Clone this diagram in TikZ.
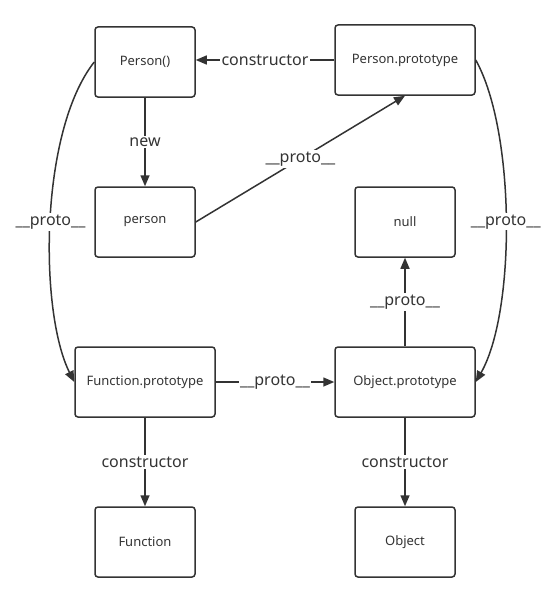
\documentclass[tikz,border=0pt]{standalone}
\usepackage{fontspec}
\setmainfont{Noto Sans}
\usetikzlibrary{arrows.meta}
\definecolor{ink}{HTML}{333333}

\begin{document}
\begin{tikzpicture}[x=1pt,y=-1pt,
  box/.style={draw=ink,line width=1.5pt,rounded corners=3pt,minimum width=100pt,
    minimum height=70pt,inner sep=0pt,text=ink,font=\fontsize{13}{15}\selectfont},
  widebox/.style={box,minimum width=140pt},
  link/.style={draw=ink,line width=1.5pt,-{Triangle[length=11pt,width=9pt]}},
  tag/.style={fill=white,text=ink,inner sep=1.5pt,font=\fontsize{16}{19}\selectfont}]
\useasboundingbox (0,0) rectangle (556,602);
% boxes
\node [box] (personfn) at (145,62) {Person()};
\node [widebox] (personproto) at (405,60) {Person.prototype};
\node [box] (person) at (145,222) {person};
\node [box] (null) at (405,222) {null};
\node [widebox] (fnproto) at (145,382) {Function.prototype};
\node [widebox] (objproto) at (405,382) {Object.prototype};
\node [box] (function) at (145,542) {Function};
\node [box] (object) at (405,542) {Object};
% links
\draw [link] (personproto.west) -- node [tag] {constructor} (personfn.east |- personproto.west);
\draw [link] (personfn) -- node [tag] {new} (person);
\draw [link] (person.east) -- node [tag] {\_\_proto\_\_} (personproto.south);
\draw [link] (personfn.west) .. controls +(-55,70) and +(-35,-70) .. node [tag] {\_\_proto\_\_} (fnproto.west);
\draw [link] (personproto.east) .. controls +(40,72) and +(40,-70) .. node [tag] {\_\_proto\_\_} (objproto.east);
\draw [link] (fnproto) -- node [tag] {\_\_proto\_\_} (objproto);
\draw [link] (objproto) -- node [tag] {\_\_proto\_\_} (null);
\draw [link] (fnproto) -- node [tag] {constructor} (function);
\draw [link] (objproto) -- node [tag] {constructor} (object);
\end{tikzpicture}
\end{document}
